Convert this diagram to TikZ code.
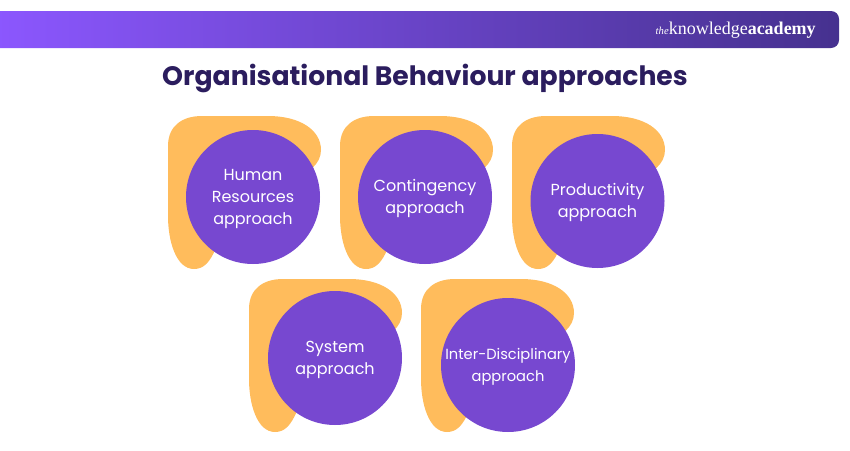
\documentclass[tikz,border=0pt]{standalone}
\usepackage{fontspec}
\setmainfont{Poppins}
\newfontfamily\logofont{Liberation Serif}
\usetikzlibrary{positioning}

\definecolor{blobcolor}{HTML}{FFBC5C}
\definecolor{circlecolor}{HTML}{7748D0}
\definecolor{titlecolor}{HTML}{2B1D5E}
\definecolor{barleft}{HTML}{8C57FF}
\definecolor{barmid}{HTML}{6A40C4}
\definecolor{barright}{HTML}{46318F}

\tikzset{
    approach/.style={circle, fill=circlecolor, minimum size=100.5pt, inner sep=0pt},
    approachtext/.style={text=white, inner sep=0pt, align=center, yshift=-1.2pt,
        font=\fontsize{12}{16.5}\selectfont},
    blobshape/.pic={
        \fill[blobcolor] (0,30) .. controls (0,10) and (14,0) .. (34,0)
            -- (100,0) .. controls (132,0) and (153,14) .. (153,34)
            .. controls (153,48) and (140,58) .. (125,62)
            -- (48,132) .. controls (42,146) and (36,153) .. (26,153)
            .. controls (8,153) and (0,125) .. (0,100) -- cycle;
    }
}

\begin{document}
\begin{tikzpicture}[x=0.75pt, y=-0.75pt]
    \useasboundingbox (0,0) rectangle (850,450);

    % header bar
    \shade[left color=barleft, middle color=barmid, right color=barright, rounded corners=6pt]
        (-10,11) rectangle (839,48);
    \node[text=white, anchor=east, inner sep=0pt] (logo) at (816,30)
        {\logofont\fontsize{8}{8}\selectfont\textit{the}\fontsize{13.5}{14}\selectfont knowledge\textbf{academy}};

    \node[text=titlecolor, font=\fontsize{20}{24}\selectfont\bfseries] (title) at (425,78.5)
        {Organisational Behaviour approaches};

    % blobs behind the circles
    \pic at (168,116) {blobshape};
    \pic at (340,116) {blobshape};
    \pic at (512,116) {blobshape};
    \pic at (249,279) {blobshape};
    \pic at (421,279) {blobshape};

    \node[approach, label={[approachtext]center:Human\\Resources\\approach}] (human) at (253,197) {};
    \node[approach, label={[approachtext]center:Contingency\\approach}] (contingency) at (425,197) {};
    \node[approach, label={[approachtext]center:Productivity\\approach}] (productivity) at (597.5,201) {};
    \node[approach, label={[approachtext]center:System\\approach}] (system) at (335,358) {};
    \node[approach, label={[approachtext, font=\fontsize{11}{16.5}\selectfont]center:Inter-Disciplinary\\approach}] (inter) at (508,365) {};

\end{tikzpicture}
\end{document}
